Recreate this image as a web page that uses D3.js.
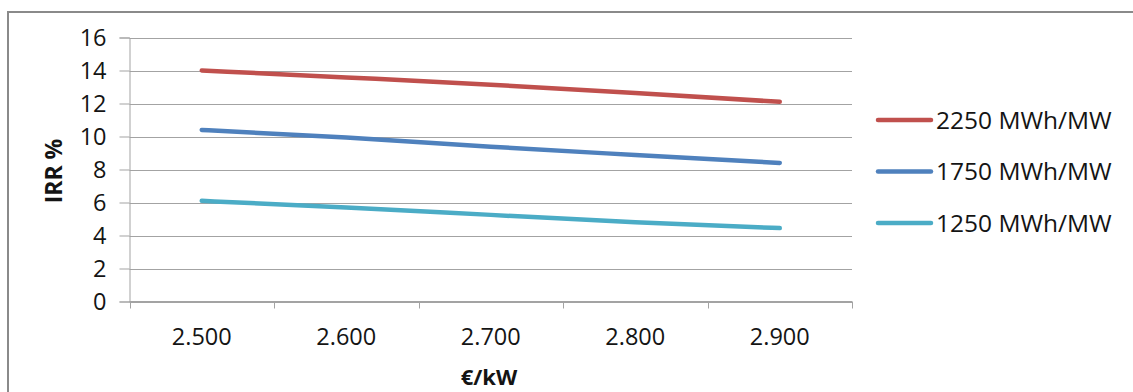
<!DOCTYPE html>
<html>
<head>
<meta charset="utf-8">
<script src="https://cdn.jsdelivr.net/npm/d3@7/dist/d3.min.js"></script>
<style>
  html, body { margin: 0; padding: 0; background: #fff; }
  svg { display: block; }
  text { font-family: "Open Sans", "Noto Sans", sans-serif; fill: #141414; }
</style>
</head>
<body>
<svg id="chart" width="1133" height="392"></svg>
<script>
// Investment cost per kW (category axis)
const costs = ["2.500", "2.600", "2.700", "2.800", "2.900"];
// IRR (%) for each specific yield
const irr2250 = [14.0, 13.58, 13.14, 12.64, 12.1];
const irr1750 = [10.4, 9.94, 9.38, 8.88, 8.4];
const irr1250 = [6.1, 5.7, 5.25, 4.8, 4.45];
const seriesNames = ["2250 MWh/MW", "1750 MWh/MW", "1250 MWh/MW"];
const seriesColors = ["#C0504D", "#4F81BD", "#4BACC6"];
const yTicks = [0, 2, 4, 6, 8, 10, 12, 14, 16];

const series = [irr2250, irr1750, irr1250].map((vals, i) => ({
  name: seriesNames[i], color: seriesColors[i], values: vals
}));

const svg = d3.select("#chart");
const plot = { left: 129.5, right: 852, top: 37.5, bottom: 301.5 };
const gridColor = "#a3a3a3";
const tickFont = 23.5;

// outer chart frame
svg.append("rect")
  .attr("x", 8).attr("y", 12)
  .attr("width", 1140).attr("height", 400)
  .attr("fill", "none").attr("stroke", "#8a8a8a").attr("stroke-width", 2);

const x = d3.scaleBand().domain(costs).range([plot.left, plot.right]).padding(0);
const y = d3.scaleLinear().domain([0, 16]).range([plot.bottom, plot.top]);

// horizontal gridlines
svg.append("g").selectAll("line").data(yTicks).join("line")
  .attr("x1", plot.left).attr("x2", plot.right)
  .attr("y1", d => Math.round(y(d)) + 0.5).attr("y2", d => Math.round(y(d)) + 0.5)
  .attr("stroke", gridColor).attr("stroke-width", 1);

// y axis
const yAxis = svg.append("g")
  .attr("transform", `translate(${plot.left},0)`)
  .call(d3.axisLeft(y).tickValues(yTicks).tickSize(10).tickPadding(13).tickFormat(d3.format("d")));
yAxis.select(".domain").attr("stroke", gridColor);
yAxis.selectAll(".tick line").attr("stroke", gridColor);
yAxis.selectAll(".tick text")
  .attr("font-size", tickFont).attr("fill", "#141414").attr("dy", "0.36em");

// x axis: ticks at category boundaries
const xAxisG = svg.append("g").attr("transform", `translate(0,${plot.bottom})`);
xAxisG.append("line")
  .attr("x1", plot.left).attr("x2", plot.right).attr("y1", 0).attr("y2", 0)
  .attr("stroke", gridColor);
const boundaries = costs.map(c => x(c)).concat([x(costs[costs.length - 1]) + x.bandwidth()]);
xAxisG.selectAll("line.tk").data(boundaries).join("line").attr("class", "tk")
  .attr("x1", d => Math.round(d) + 0.5).attr("x2", d => Math.round(d) + 0.5)
  .attr("y1", 0).attr("y2", 7)
  .attr("stroke", gridColor);
xAxisG.selectAll("text").data(costs).join("text")
  .attr("x", d => x(d) + x.bandwidth() / 2)
  .attr("y", 35)
  .attr("dy", "0.36em")
  .attr("text-anchor", "middle")
  .attr("font-size", tickFont)
  .text(d => d);

// series lines
const line = d3.line()
  .x((d, i) => x(costs[i]) + x.bandwidth() / 2)
  .y(d => y(d))
  .curve(d3.curveMonotoneX);

svg.append("g").selectAll("path").data(series).join("path")
  .attr("d", d => line(d.values))
  .attr("fill", "none")
  .attr("stroke", d => d.color)
  .attr("stroke-width", 4.5)
  .attr("stroke-linecap", "round")
  .attr("stroke-linejoin", "round");

// axis titles
svg.append("text")
  .attr("transform", "translate(54,171) rotate(-90)")
  .attr("text-anchor", "middle").attr("dy", "0.36em")
  .attr("font-size", 23).attr("font-weight", "bold")
  .text("IRR %");
svg.append("text")
  .attr("x", 489).attr("y", 377).attr("dy", "0.36em")
  .attr("text-anchor", "middle")
  .attr("font-size", 22).attr("font-weight", "bold")
  .text("€/kW");

// legend
const legend = svg.append("g").selectAll("g").data(series).join("g")
  .attr("transform", (d, i) => `translate(0,${120 + i * 51.5})`);
legend.append("line")
  .attr("x1", 878).attr("x2", 931).attr("y1", 0).attr("y2", 0)
  .attr("stroke", d => d.color).attr("stroke-width", 4.5)
  .attr("stroke-linecap", "round");
legend.append("text")
  .attr("x", 936).attr("y", 0).attr("dy", "0.36em")
  .attr("font-size", 24.5)
  .text(d => d.name);
</script>
</body>
</html>
